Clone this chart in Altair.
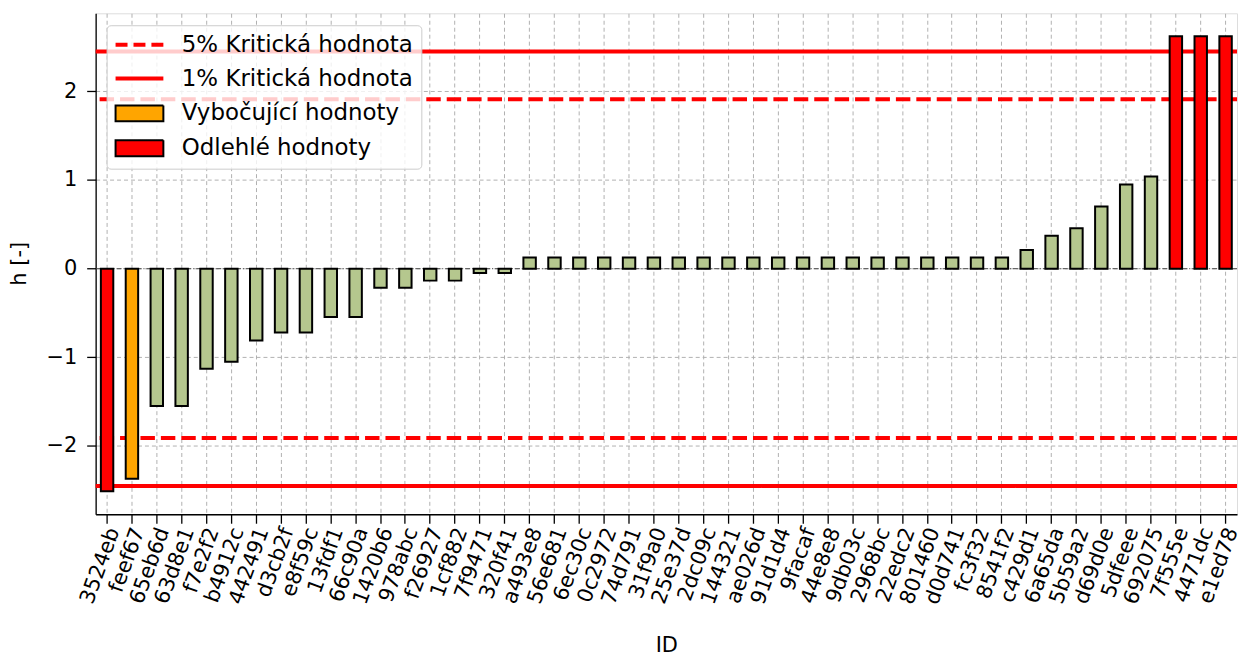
import altair as alt
import pandas as pd

ids = ["3524eb", "feef67", "65eb6d", "63d8e1", "f7e2f2", "b4912c", "442491", "d3cb2f",
       "e8f59c", "13fdf1", "66c90a", "1420b6", "978abc", "f26927", "1cf882", "7f9471",
       "320f41", "a493e8", "56e681", "6ec30c", "0c2972", "74d791", "31f9a0", "25e37d",
       "2dc09c", "144321", "ae026d", "91d1d4", "9facaf", "44e8e8", "9db03c", "2968bc",
       "22edc2", "801460", "d0d741", "fc3f32", "8541f2", "c429d1", "6a65da", "5b59a2",
       "d69d0e", "5dfeee", "692075", "7f555e", "4471dc", "e1ed78"]
h_values = [-2.51, -2.37, -1.55, -1.55, -1.13, -1.05, -0.81, -0.72,
            -0.72, -0.545, -0.545, -0.216, -0.216, -0.135, -0.135, -0.05,
            -0.05, 0.125, 0.125, 0.125, 0.125, 0.125, 0.125, 0.125,
            0.125, 0.125, 0.125, 0.125, 0.125, 0.125, 0.125, 0.125,
            0.125, 0.125, 0.125, 0.125, 0.125, 0.21, 0.37, 0.455,
            0.70, 0.95, 1.04, 2.62, 2.62, 2.62]
crit_5 = 1.91
crit_1 = 2.45

LBL5 = "5% Kritická hodnota"
LBL1 = "1% Kritická hodnota"
LBL_V = "Vybočující hodnoty"
LBL_O = "Odlehlé hodnoty"
LBL_N = "Běžné hodnoty"

status = [LBL_O if abs(v) > crit_1 else (LBL_V if abs(v) > crit_5 else LBL_N) for v in h_values]
bars_df = pd.DataFrame({"ID": ids, "h": h_values, "status": status})
lines_df = pd.DataFrame({"y": [crit_5, -crit_5, crit_1, -crit_1],
                         "kind": [LBL5, LBL5, LBL1, LBL1]})
zero_df = pd.DataFrame({"y": [0.0]})

FONT = "DejaVu Sans"
FS = 21
LFS = 23
GRID = "#b0b0b0"

is_line = f"(datum.value === '{LBL5}' || datum.value === '{LBL1}')"
legend = alt.Legend(
    title=None, orient="none", legendX=11, legendY=12,
    values=[LBL5, LBL1, LBL_V, LBL_O],
    labelFont=FONT, labelFontSize=LFS, labelColor="black", labelLimit=500,
    labelOffset=31, symbolOffset=13.5,
    symbolSize=2304, padding=8, rowPadding=10,
    fillColor="rgba(255,255,255,0.8)", strokeColor="#cccccc", cornerRadius=4,
    symbolType=alt.ExprRef(expr=f"{is_line} ? 'M-1,0L1,0' : 'M-1,-0.33L1,-0.33L1,0.33L-1,0.33Z'"),
    symbolStrokeColor=alt.ExprRef(expr=f"{is_line} ? '#ff0000' : '#000000'"),
    symbolStrokeWidth=alt.ExprRef(expr=f"{is_line} ? 4 : 2"),
    symbolDash=alt.ExprRef(expr=f"datum.value === '{LBL5}' ? [12, 6] : [1, 0]"),
    symbolOpacity=1,
)

x_enc = alt.X(
    "ID:N", sort=ids,
    scale=alt.Scale(paddingInner=0.5, paddingOuter=0.21),
    axis=alt.Axis(
        title="ID", bandPosition=0.5, labelAngle=290, labelAlign="right",
        labelBaseline="middle", labelPadding=5, labelOffset=7,
        tickSize=9, tickWidth=1.3,
        tickColor="black", domainColor="black", domainWidth=1.3,
        labelFont=FONT, labelFontSize=FS, labelColor="black",
        titleFont=FONT, titleFontSize=FS, titleFontWeight="normal", titleColor="black",
        titleX=573, titleY=138, titleBaseline="alphabetic", titleAlign="center",
        grid=True, gridColor=GRID, gridDash=[4, 3], gridWidth=1
    )
)

y_scale = alt.Scale(domain=[-2.77, 2.88], nice=False, zero=False)
y_axis = alt.Axis(
    title="h [-]", values=[-2, -1, 0, 1, 2],
    labelExpr="replace(format(datum.value, 'd'), '-', '\u2212')",
    tickSize=9, tickWidth=1.3, tickColor="black", domainColor="black", domainWidth=1.3,
    labelFont=FONT, labelFontSize=FS, labelColor="black", labelPadding=10,
    titleFont=FONT, titleFontSize=FS, titleFontWeight="normal", titleColor="black",
    titleX=-76, titleY=251, titleAngle=270, titleBaseline="middle", titleAlign="center",
    grid=True, gridColor=GRID, gridDash=[4, 3], gridWidth=1
)

zero_rule = alt.Chart(zero_df).mark_rule(color="#666666", strokeWidth=1.2, strokeDash=[5, 2, 1, 2]).encode(
    y=alt.Y("y:Q", scale=y_scale, axis=y_axis)
)

rules = alt.Chart(lines_df).mark_rule(color="#ff0000", strokeWidth=4).encode(
    y=alt.Y("y:Q", scale=y_scale, axis=y_axis),
    strokeDash=alt.StrokeDash("kind:N", scale=alt.Scale(domain=[LBL5, LBL1], range=[[14.5, 6], [1, 0]]), legend=None)
)

bars = alt.Chart(bars_df).mark_bar().encode(
    x=x_enc,
    y=alt.Y("h:Q", scale=y_scale, axis=y_axis),
    fill=alt.Fill("status:N",
                  scale=alt.Scale(domain=[LBL5, LBL1, LBL_V, LBL_O, LBL_N],
                                  range=["#ff0000", "#ff0000", "#ffa500", "#ff0000", "#b5c78e"]),
                  legend=legend),
    stroke=alt.value("black"),
    strokeWidth=alt.value(2),
)

chart = alt.layer(zero_rule, rules, bars).properties(
    width=1146, height=503,
    autosize=alt.AutoSizeParams(type="none"),
    padding={"left": 88, "top": 4, "right": 5, "bottom": 142}
).configure_view(
    stroke="black", strokeWidth=1.3
).configure(background="white")

chart.save("out.html", embed_options={"renderer": "svg", "actions": False})
